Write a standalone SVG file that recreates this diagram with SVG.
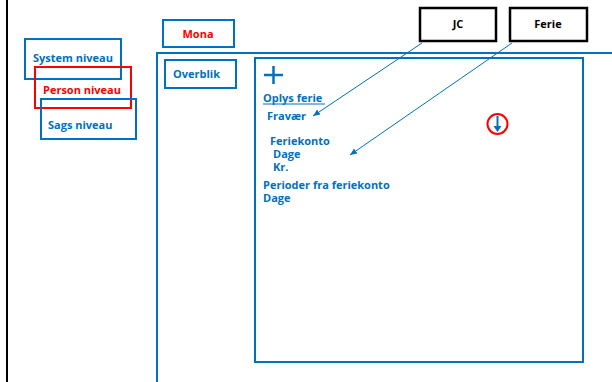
<svg xmlns="http://www.w3.org/2000/svg" width="612" height="382" viewBox="0 0 612 382">
<style>
.b{fill:none;stroke:#0070C0;stroke-width:2}
.r{fill:none;stroke:#FF0000;stroke-width:2}
.k{fill:none;stroke:#000;stroke-width:2.5}
text{font-family:"Open Sans","Noto Sans",sans-serif;font-weight:bold;font-size:11px}
.tb{fill:#0070C0}
.tr{fill:#FF0000}
.tk{fill:#000}
.c{stroke:#0070C0;stroke-width:1;fill:none}
</style>
<defs>
<marker id="ah" markerWidth="8" markerHeight="8" refX="7" refY="4" orient="auto" markerUnits="userSpaceOnUse">
<path d="M0,1 L7,4 L0,7 z" fill="#0070C0"/>
</marker>
</defs>
<rect width="612" height="382" fill="#fff"/>
<line x1="7" y1="0" x2="7" y2="382" stroke="#000" stroke-width="2"/>
<g id="panel">
<path d="M157,382 V53 H612" class="b"/>
</g>
<g id="mona"><rect x="163" y="20" width="71" height="27" class="b"/><text x="198" y="38" text-anchor="middle" class="tr">Mona</text></g>
<g id="overblik"><rect x="165" y="60" width="71" height="28" class="b"/><text x="173" y="78" class="tb">Overblik</text></g>
<g id="system"><rect x="25" y="39" width="96" height="40" class="b"/><text x="33" y="62" class="tb">System niveau</text></g>
<g id="person"><rect x="35" y="67" width="96" height="41" class="r"/><text x="43" y="94" class="tr">Person niveau</text></g>
<g id="sags"><rect x="41" y="99" width="95" height="40" class="b"/><text x="48" y="129" class="tb">Sags niveau</text></g>
<g id="jc"><rect x="420" y="8" width="76" height="33" class="k"/><text x="458" y="28" text-anchor="middle" class="tk">JC</text></g>
<g id="ferie"><rect x="510" y="8" width="77" height="33" class="k"/><text x="548" y="28" text-anchor="middle" class="tk">Ferie</text></g>
<g id="content">
<rect x="255" y="58" width="328" height="304" class="b"/>
<path d="M264,75 H283 M273.5,66 V84" stroke="#0070C0" stroke-width="2.5"/>
<text x="263" y="102" class="tb">Oplys ferie</text>
<line x1="263" y1="104" x2="325" y2="104" stroke="#0070C0" stroke-width="1"/>
<text x="267" y="120" class="tb">Fravær</text>
<text x="270" y="145" class="tb">Feriekonto</text>
<text x="273" y="158" class="tb">Dage</text>
<text x="273" y="171" class="tb">Kr.</text>
<text x="263" y="189" class="tb">Perioder fra feriekonto</text>
<text x="263" y="202" class="tb">Dage</text>
</g>
<g id="download">
<circle cx="497.5" cy="124" r="10" class="r"/>
<line x1="497.5" y1="116" x2="497.5" y2="128" stroke="#0070C0" stroke-width="2"/>
<path d="M493.5,126 L497.5,132 L501.5,126 z" fill="#0070C0"/>
</g>
<g id="connectors">
<line x1="422" y1="43" x2="313" y2="116" class="c" marker-end="url(#ah)"/>
<line x1="512" y1="43" x2="350" y2="155" class="c" marker-end="url(#ah)"/>
</g>
</svg>
